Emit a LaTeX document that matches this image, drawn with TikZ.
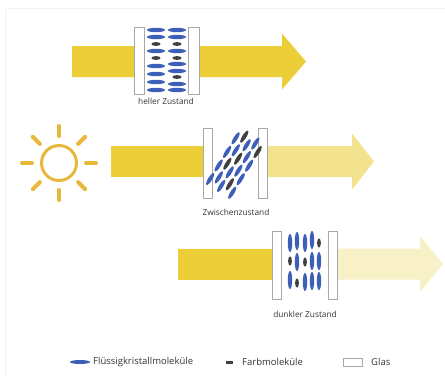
\documentclass[tikz,border=0pt]{standalone}
\usepackage{fontspec}
\setmainfont{Open Sans}

\definecolor{beamstrong}{HTML}{ECCE38}
\definecolor{beammid}{HTML}{F3E28E}
\definecolor{beamfaint}{HTML}{F8F0C6}
\definecolor{sunyellow}{HTML}{E8B73C}
\definecolor{lcblue}{HTML}{3E5FB8}
\definecolor{dyegrey}{HTML}{404040}
\definecolor{glassline}{HTML}{A8A8A8}
\definecolor{textgrey}{HTML}{333333}

% light beam: start, head base, tip, centre line, colour
\newcommand\lightbeam[5]{%
  \fill[#5] (#1,#4-15.5) -- (#2,#4-15.5) -- (#2,#4-28) -- (#3,#4)
    -- (#2,#4+28) -- (#2,#4+15.5) -- (#1,#4+15.5) -- cycle;}

\begin{document}
\begin{tikzpicture}[
    x=1pt, y=-1pt,
    glass/.style={fill=white, draw=glassline, line width=0.8pt},
    b/.style={fill=lcblue, x radius=9pt, y radius=2.2pt},
    k/.style={fill=dyegrey, x radius=4.6pt, y radius=1.9pt},
    sunray/.style={sunyellow, line width=4pt, line cap=round},
    caption/.style={text=textgrey, font=\fontsize{8.3}{10}\selectfont},
    legendtext/.style={text=textgrey, anchor=west, inner sep=0pt,
                       font=\fontsize{9.5}{11}\selectfont}
  ]
  \useasboundingbox (0,0) rectangle (445,376);
  \draw[black!5] (5,376) -- (5,8) -- (445,8);

  % sun
  \node[circle, draw=sunyellow, line width=3pt, minimum size=35pt,
        inner sep=0pt] (sun) at (59,163) {};
  \foreach \a in {0,45,...,315}
    \draw[sunray, shift={(sun.center)}] (\a:27) -- (\a:37);

  % beams
  \lightbeam{72}{282}{306}{61.5}{beamstrong}
  \lightbeam{111}{352}{374}{161.5}{beammid}
  \fill[beamstrong] (111,146) rectangle (208,177);
  \lightbeam{178}{420}{443}{264}{beamfaint}
  \fill[beamstrong] (178,248.5) rectangle (277,279.5);

  % bright state: molecules lie flat
  \fill[white] (144,27) rectangle (188,94);
  \draw[glass] (134,27) rectangle (144,94);
  \draw[glass] (188,27) rectangle (199,94);
  \foreach \y/\t in {30/b,37/b,44/k,51/b,58/k,66/b,74/b,82/b,90/b}
    \fill[\t] (156,\y) ellipse [];
  \foreach \y/\t in {30/b,37/b,44/k,51/b,58/k,64/b,71/b,77/k,84/b,90/b}
    \fill[\t] (177,\y) ellipse [];
  \node[caption] (heller) at (166,101) {heller Zustand};

  % intermediate state: molecules tilted
  \fill[white] (212,128) rectangle (258,198);
  \draw[glass] (203,128) rectangle (212,198);
  \draw[glass] (258,128) rectangle (267,198);
  \begin{scope}[shift={(235.5,163)}, rotate=58]
    \foreach \v/\s/\ta/\tb/\tc/\td in {-13/-3/b/b/b/b, -6.5/3/b/k/b/k,
                                     0/-3/b/b/k/b, 6.5/3/k/b/b/b,
                                     13/-3/b/b/b/k}
      \foreach \u/\t in {-24/\ta,-8/\tb,8/\tc,24/\td}
        \fill[\t, x radius=7pt, y radius=2pt] (\u+\s,\v) ellipse [];
  \end{scope}
  \node[caption] (zwischen) at (236,212) {Zwischenzustand};

  % dark state: molecules upright
  \fill[white] (281,231) rectangle (328,299);
  \draw[glass] (272,231) rectangle (281,299);
  \draw[glass] (328,231) rectangle (337,299);
  \foreach \x/\y/\t in {290/243/b,290/261/k,290/280/b,
                        297/241/b,297/262/b,297/283/k,
                        305/243/b,305/262/k,305/282/b,
                        312/240/b,312/261/b,312/281/b,
                        319/243/k,319/261/b,319/281/b}
    \fill[\t, rotate around={90:(\x,\y)}] (\x,\y) ellipse [];
  \node[caption] (dunkler) at (305,314) {dunkler Zustand};

  % legend
  \fill[b, x radius=10pt, y radius=2pt] (80,362) ellipse [];
  \node[legendtext] (lclabel) at (93,362) {Flüssigkristallmoleküle};
  \fill[dyegrey] (226,360.5) rectangle (233,363.5);
  \node[legendtext] (dyelabel) at (242,362) {Farbmoleküle};
  \draw[glass] (343,358) rectangle (362,366);
  \node[legendtext] (glasslabel) at (371,362) {Glas};
\end{tikzpicture}
\end{document}
